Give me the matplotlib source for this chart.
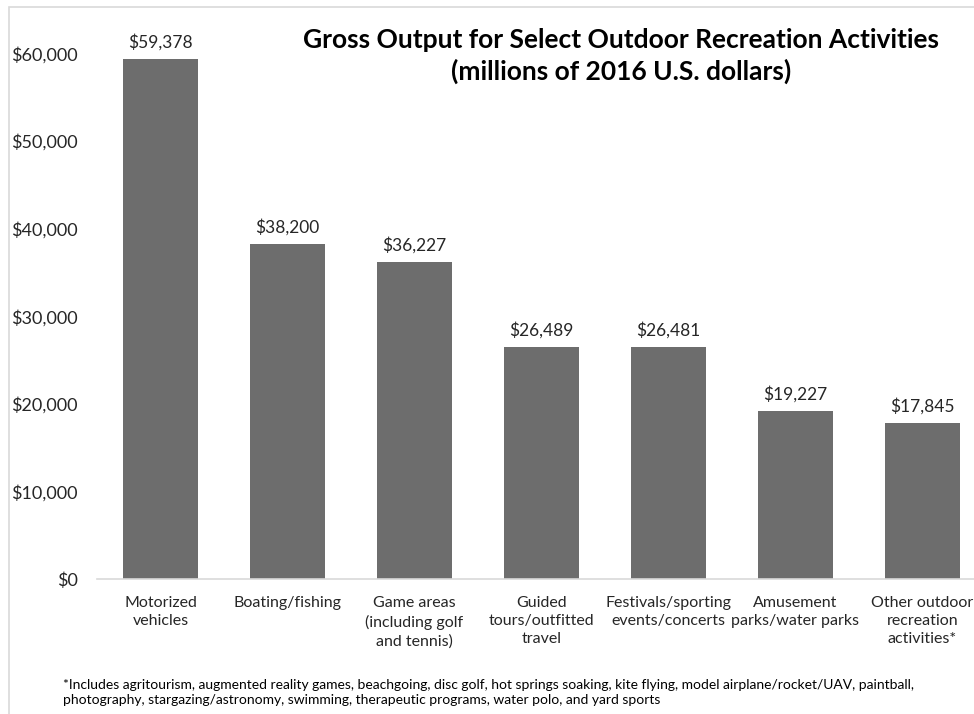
import matplotlib.pyplot as plt
from matplotlib.patches import Rectangle
from matplotlib.ticker import FuncFormatter

plt.rcParams['font.family'] = ['Lato', 'DejaVu Sans']

# data
categories = ["Motorized\nvehicles", "Boating/fishing",
              "Game areas\n(including golf\nand tennis)",
              "Guided\ntours/outfitted\ntravel",
              "Festivals/sporting\nevents/concerts",
              "Amusement\nparks/water parks",
              "Other outdoor\nrecreation\nactivities*"]
output = [59378, 38200, 36227, 26489, 26481, 19227, 17845]
yticks = [0, 10000, 20000, 30000, 40000, 50000, 60000]

title = "Gross Output for Select Outdoor Recreation Activities\n(millions of 2016 U.S. dollars)"
note = ("*Includes agritourism, augmented reality games, beachgoing, disc golf, hot springs soaking, kite flying, "
        "model airplane/rocket/UAV, paintball,\nphotography, stargazing/astronomy, swimming, therapeutic programs, "
        "water polo, and yard sports")

W, H = 974, 714
fig = plt.figure(figsize=(W / 100, H / 100), dpi=100)

# light chart-area border (only left/top visible, rest cropped)
fig.patches.append(Rectangle((9 / W, -0.1), 2, 1 - 7 / H + 0.1, transform=fig.transFigure,
                             fill=False, ec='#d9d9d9', lw=1.2))

ax = fig.add_axes([97 / W, 1 - 579 / H, (986 - 97) / W, (579 - 53.4) / H])
x = range(len(output))
bars = ax.bar(x, output, width=0.59, color='#6d6d6d')
ax.bar_label(bars, labels=[f"${v:,}" for v in output], padding=6, fontsize=12.5, color='#262626')

ax.set_xlim(-0.5, 6.5)
ax.set_ylim(0, 60000)
ax.set_yticks(yticks)
ax.yaxis.set_major_formatter(FuncFormatter(lambda v, p: f"${v:,.0f}"))
ax.set_xticks(list(x))
ax.set_xticklabels(categories, fontsize=11.5, color='#262626', linespacing=1.4)
ax.tick_params(axis='y', length=0, pad=14, labelsize=13, labelcolor='#262626')
ax.tick_params(axis='x', length=0, pad=12)
for s in ['top', 'right', 'left']:
    ax.spines[s].set_visible(False)
ax.spines['bottom'].set_color('#d9d9d9')
ax.spines['bottom'].set_linewidth(1.2)

fig.text(621 / W, 1 - 56 / H, title, ha='center', va='center', fontsize=19,
         fontweight='bold', color='black', linespacing=1.35)
fig.text(63 / W, 1 - 692.5 / H, note, ha='left', va='center', fontsize=10,
         color='black', linespacing=1.3)

fig.savefig('out.png', dpi=100)
